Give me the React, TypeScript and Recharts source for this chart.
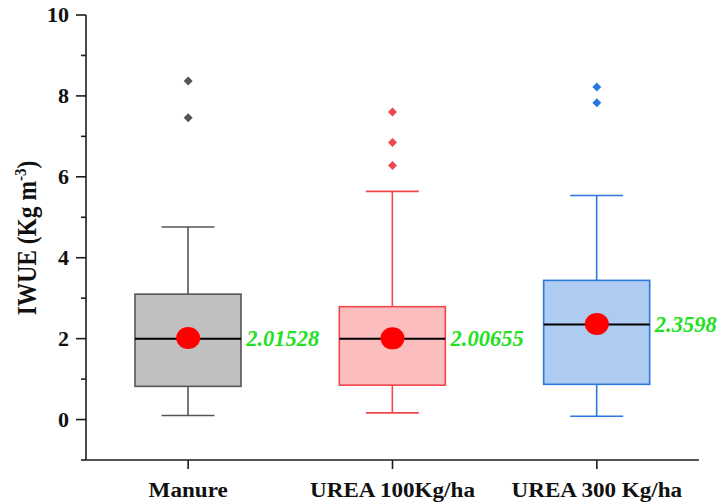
import { ComposedChart, Bar, Scatter, XAxis, YAxis } from 'recharts'

const CATEGORIES = ['Manure', 'UREA 100Kg/ha', 'UREA 300 Kg/ha']
const WHISKER_LOW = [0.1, 0.165, 0.08]
const Q1 = [0.82, 0.85, 0.87]
const MEDIAN = [2.0, 2.0, 2.35]
const Q3 = [3.1, 2.79, 3.44]
const WHISKER_HIGH = [4.76, 5.64, 5.54]
const MEANS = [2.01528, 2.00655, 2.3598]
const MEAN_LABELS = ['2.01528', '2.00655', '2.3598']
const OUTLIERS = [
  [8.37, 7.46],
  [7.6, 6.85, 6.28],
  [8.22, 7.83],
]
const Y_TICKS = [-1, 0, 1, 2, 3, 4, 5, 6, 7, 8, 9, 10]

const STROKES = ['#555555', '#f0474d', '#2b79dc']
const FILLS = ['#c0c0c0', '#fbbdbe', '#aecbf1']
const FONT = '"Liberation Serif", "Times New Roman", serif'
const AXIS = '#1c1c1c'
const BOX_W = 106

const data = CATEGORIES.map((name, i) => ({
  name,
  idx: i,
  box: [Q1[i], Q3[i]],
  low: WHISKER_LOW[i],
  med: MEDIAN[i],
  high: WHISKER_HIGH[i],
  q1: Q1[i],
  q3: Q3[i],
  mean: MEANS[i],
  meanLabel: MEAN_LABELS[i],
}))

// box + whiskers + median, positions derived from the bar the library laid out
const BoxShape = (props: any) => {
  const { x, y, width, height, payload } = props
  const top = Math.min(y, y + height)
  const h = Math.abs(height)
  const unit = h / (payload.q3 - payload.q1)
  const toPx = (v: number) => top + (payload.q3 - v) * unit
  const cx = x + width / 2
  const capHalf = width / 4
  const s = STROKES[payload.idx]
  const yHigh = toPx(payload.high)
  const yLow = toPx(payload.low)
  const yMed = toPx(payload.med)
  return (
    <g>
      <line x1={cx} x2={cx} y1={yHigh} y2={top} stroke={s} strokeWidth={1.6} />
      <line x1={cx - capHalf} x2={cx + capHalf} y1={yHigh} y2={yHigh} stroke={s} strokeWidth={1.6} />
      <line x1={cx} x2={cx} y1={top + h} y2={yLow} stroke={s} strokeWidth={1.6} />
      <line x1={cx - capHalf} x2={cx + capHalf} y1={yLow} y2={yLow} stroke={s} strokeWidth={1.6} />
      <rect x={x} y={top} width={width} height={h} fill={FILLS[payload.idx]} stroke={s} strokeWidth={1.6} />
      <line x1={x} x2={x + width} y1={yMed} y2={yMed} stroke="#000" strokeWidth={2} />
    </g>
  )
}

const MeanShape = (props: any) => {
  const { cx, cy, payload } = props
  if (cx == null || cy == null) return null
  return (
    <g>
      <ellipse cx={cx} cy={cy} rx={12} ry={11} fill="#ff0000" />
      <text
        x={cx + BOX_W / 2 + 5}
        y={cy}
        dy={7.5}
        fill="#22e022"
        fontFamily={FONT}
        fontWeight="bold"
        fontStyle="italic"
        fontSize={22.5}
      >
        {payload.meanLabel}
      </text>
    </g>
  )
}

const diamond = (color: string) => (props: any) => {
  const { cx, cy } = props
  if (cx == null || cy == null) return null
  const r = 4.5
  return <polygon points={`${cx},${cy - r} ${cx + r},${cy} ${cx},${cy + r} ${cx - r},${cy}`} fill={color} />
}

const YTick = (props: any) => {
  const { x, y, payload } = props
  const v = payload.value
  const major = v >= 0 && v % 2 === 0
  return (
    <g>
      <line x1={x - (major ? 10 : 5)} x2={x} y1={y} y2={y} stroke={AXIS} strokeWidth={1.6} />
      {major && (
        <text
          transform={`translate(${x - 17}, ${y + 7}) scale(1.1, 1)`}
          textAnchor="end"
          fontFamily={FONT}
          fontWeight="bold"
          fontSize={20}
          fill="#111"
        >
          {v}
        </text>
      )}
    </g>
  )
}

const XTick = (props: any) => {
  const { x, payload } = props
  return (
    <text
      transform={`translate(${x}, 497) scale(1.1, 1)`}
      textAnchor="middle"
      fontFamily={FONT}
      fontWeight="bold"
      fontSize={21}
      fill="#111"
    >
      {payload.value}
    </text>
  )
}

const YLabel = () => (
  <text
    transform="translate(36, 238) rotate(-90) scale(1, 1.15)"
    textAnchor="middle"
    fontFamily={FONT}
    fontWeight="bold"
    fontSize={23.5}
    fill="#111"
  >
    IWUE (Kg m<tspan dy={-9} fontSize={15}>-3</tspan><tspan dy={9}>)</tspan>
  </text>
)

export default function App() {
  return (
    <div style={{ position: 'absolute', left: 0, top: 0, background: '#fff' }}>
      <ComposedChart width={724} height={502} data={data} margin={{ top: 15, right: 25, bottom: 12, left: 0 }}>
        <XAxis
          dataKey="name"
          type="category"
          allowDuplicatedCategory={false}
          height={30}
          tickSize={9}
          tickMargin={0}
          tickLine={{ stroke: AXIS, strokeWidth: 1.6 }}
          axisLine={{ stroke: AXIS, strokeWidth: 1.6 }}
          tick={<XTick />}
        />
        <XAxis
          xAxisId="top"
          dataKey="name"
          orientation="top"
          height={0}
          tick={false}
          tickLine={false}
          axisLine={{ stroke: AXIS, strokeWidth: 1.6 }}
        />
        <YAxis
          type="number"
          domain={[-1, 10]}
          ticks={Y_TICKS}
          interval={0}
          width={86}
          tickSize={0}
          tickMargin={0}
          tickLine={false}
          axisLine={{ stroke: AXIS, strokeWidth: 1.6 }}
          tick={<YTick />}
          label={{ content: <YLabel /> }}
        />
        <YAxis
          yAxisId="right"
          orientation="right"
          width={0}
          tick={false}
          tickLine={false}
          axisLine={{ stroke: AXIS, strokeWidth: 1.6 }}
        />
        <Bar dataKey="box" barSize={BOX_W} shape={<BoxShape />} isAnimationActive={false} />
        {OUTLIERS.map((vals, i) => (
          <Scatter
            key={i}
            data={vals.map((v) => ({ name: CATEGORIES[i], out: v }))}
            dataKey="out"
            shape={diamond(STROKES[i])}
            isAnimationActive={false}
          />
        ))}
        <Scatter dataKey="mean" shape={<MeanShape />} isAnimationActive={false} />
      </ComposedChart>
    </div>
  )
}
